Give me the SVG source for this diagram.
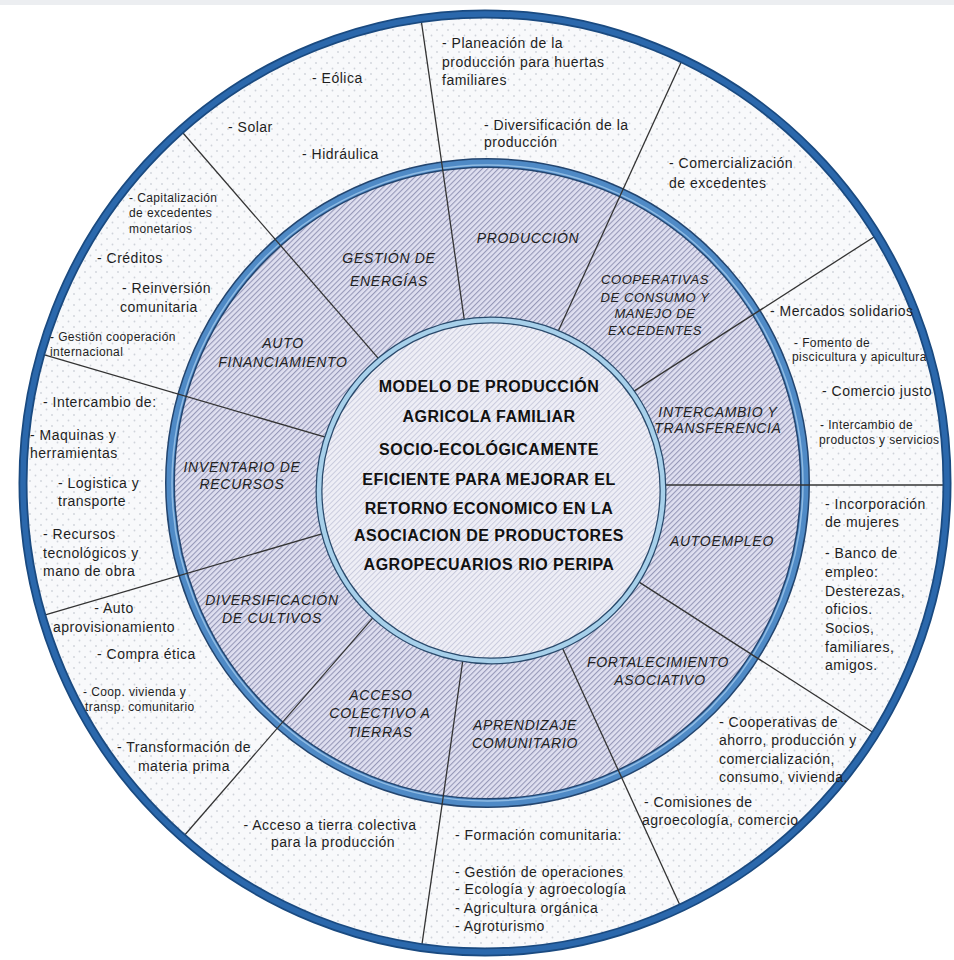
<svg xmlns="http://www.w3.org/2000/svg" width="954" height="960" viewBox="0 0 954 960">
<defs>
  <pattern id="dots" patternUnits="userSpaceOnUse" width="11" height="11">
    <rect width="11" height="11" fill="#f8f9fb"/>
    <circle cx="2.5" cy="2.5" r="0.9" fill="#cfd3da"/>
    <circle cx="8" cy="8" r="0.9" fill="#cfd3da"/>
  </pattern>
  <pattern id="hatch" patternUnits="userSpaceOnUse" width="3.8" height="10" patternTransform="rotate(45)">
    <rect width="3.8" height="10" fill="#dfdff0"/>
    <rect width="1.1" height="10" fill="#9698b8"/>
  </pattern>
  <pattern id="hatchLight" patternUnits="userSpaceOnUse" width="3.8" height="10" patternTransform="rotate(45)">
    <rect width="3.8" height="10" fill="#eeeef6"/>
    <rect width="1" height="10" fill="#c9cbdd"/>
  </pattern>
  <clipPath id="clipOuter"><ellipse cx="485" cy="483" rx="462" ry="469"/></clipPath>
</defs>
<style>
  .o{font-family:"Liberation Sans",Arial,sans-serif;font-size:14px;letter-spacing:0.5px;fill:#1e1e1e}
  .s{font-size:12px;letter-spacing:0.4px}
  .mid{text-anchor:middle}
  .m{font-family:"Liberation Sans",Arial,sans-serif;font-style:italic;font-size:14px;letter-spacing:0.7px;fill:#222;text-anchor:middle}
  .ms{font-size:13px;letter-spacing:0.6px}
  .c{font-family:"Liberation Sans",Arial,sans-serif;font-weight:bold;font-size:16px;letter-spacing:0.5px;fill:#111;text-anchor:middle}
  .div{stroke:#333;stroke-width:1.3;fill:none}
</style>
<rect width="954" height="960" fill="#ffffff"/>
<rect width="954" height="5" fill="#eceef1"/>

<g id="ring-outer">
  <ellipse cx="485" cy="483" rx="462" ry="469" fill="url(#dots)"/>
</g>
<g id="ring-middle">
  <ellipse cx="487.5" cy="483" rx="317.5" ry="320" fill="url(#hatch)"/>
  <ellipse cx="487.5" cy="483" rx="317.5" ry="320" fill="none" stroke="#23456f" stroke-width="10"/>
  <ellipse cx="487.5" cy="483" rx="317.5" ry="320" fill="none" stroke="#4f8ac6" stroke-width="7"/>
  <ellipse cx="487.5" cy="483" rx="315.5" ry="318" fill="none" stroke="#8fbbe3" stroke-width="1.5"/>
</g>

<g id="connectors" clip-path="url(#clipOuter)">
  <line class="div" x1="638" y1="485" x2="968" y2="485"/>
  <line class="div" x1="614.2" y1="566.1" x2="891.8" y2="744.5"/>
  <line class="div" x1="550.3" y1="621.4" x2="687.4" y2="921.6"/>
  <line class="div" x1="466.7" y1="633.5" x2="419.7" y2="960.1"/>
  <line class="div" x1="389.8" y1="598.4" x2="173.7" y2="847.8"/>
  <line class="div" x1="344.1" y1="527.3" x2="27.4" y2="620.2"/>
  <line class="div" x1="344.1" y1="442.7" x2="27.4" y2="349.8"/>
  <line class="div" x1="389.8" y1="371.6" x2="173.7" y2="122.2"/>
  <line class="div" x1="466.7" y1="336.5" x2="419.7" y2="9.9"/>
  <line class="div" x1="550.3" y1="348.6" x2="687.4" y2="48.4"/>
  <line class="div" x1="614.2" y1="403.9" x2="891.8" y2="225.5"/>
</g>

<g id="core">
  <ellipse cx="491" cy="490.5" rx="172" ry="170.5" fill="url(#hatchLight)"/>
  <ellipse cx="491" cy="490.5" rx="172" ry="170.5" fill="none" stroke="#2a4a6c" stroke-width="7"/>
  <ellipse cx="491" cy="490.5" rx="172" ry="170.5" fill="none" stroke="#a7d0ea" stroke-width="4.5"/>
  <text class="c" x="489" y="392">MODELO DE PRODUCCIÓN</text>
  <text class="c" x="489" y="422">AGRICOLA FAMILIAR</text>
  <text class="c" x="489" y="455">SOCIO-ECOLÓGICAMENTE</text>
  <text class="c" x="489" y="485">EFICIENTE PARA MEJORAR EL</text>
  <text class="c" x="489" y="514">RETORNO ECONOMICO EN LA</text>
  <text class="c" x="489" y="541">ASOCIACION DE PRODUCTORES</text>
  <text class="c" x="489" y="570">AGROPECUARIOS RIO PERIPA</text>
</g>

<g id="outer-band">
  <ellipse cx="485" cy="483" rx="462" ry="469" fill="none" stroke="#1a4a80" stroke-width="9"/>
  <ellipse cx="485" cy="483" rx="462" ry="469" fill="none" stroke="#2b68ac" stroke-width="5.5"/>
</g>

<g id="seg-gestion-energias"><text class="m" x="389" y="263">GESTIÓN DE</text><text class="m" x="389" y="286">ENERGÍAS</text></g>
<g id="seg-produccion"><text class="m" x="528" y="243">PRODUCCIÓN</text></g>
<g id="seg-cooperativas">
  <text class="m ms" x="655" y="284">COOPERATIVAS</text>
  <text class="m ms" x="655" y="302">DE CONSUMO Y</text>
  <text class="m ms" x="655" y="318">MANEJO DE</text>
  <text class="m ms" x="655" y="335">EXCEDENTES</text>
</g>
<g id="seg-intercambio"><text class="m" x="718" y="417">INTERCAMBIO Y</text><text class="m" x="718" y="433">TRANSFERENCIA</text></g>
<g id="seg-autoempleo"><text class="m" x="722" y="546">AUTOEMPLEO</text></g>
<g id="seg-fortalecimiento"><text class="m" x="658" y="667">FORTALECIMIENTO</text><text class="m" x="660" y="685">ASOCIATIVO</text></g>
<g id="seg-aprendizaje"><text class="m" x="525" y="730">APRENDIZAJE</text><text class="m" x="525" y="748">COMUNITARIO</text></g>
<g id="seg-acceso"><text class="m" x="381" y="700">ACCESO</text><text class="m" x="380" y="718">COLECTIVO A</text><text class="m" x="380" y="737">TIERRAS</text></g>
<g id="seg-diversificacion"><text class="m" x="272" y="605">DIVERSIFICACIÓN</text><text class="m" x="272" y="623">DE CULTIVOS</text></g>
<g id="seg-inventario"><text class="m" x="242" y="472">INVENTARIO DE</text><text class="m" x="242" y="489">RECURSOS</text></g>
<g id="seg-autofinanciamiento"><text class="m" x="283" y="348">AUTO</text><text class="m" x="283" y="367">FINANCIAMIENTO</text></g>

<g id="out-energias">
  <text class="o" x="312" y="83">- Eólica</text>
  <text class="o" x="228" y="132">- Solar</text>
  <text class="o" x="302" y="159">- Hidráulica</text>
</g>
<g id="out-produccion">
  <text class="o" x="442" y="48">- Planeación de la</text>
  <text class="o" x="442" y="67">producción para huertas</text>
  <text class="o" x="442" y="85">familiares</text>
  <text class="o" x="484" y="130">- Diversificación de la</text>
  <text class="o" x="484" y="147">producción</text>
</g>
<g id="out-cooperativas">
  <text class="o" x="669" y="168">- Comercialización</text>
  <text class="o" x="669" y="188">de excedentes</text>
</g>
<g id="out-intercambio">
  <text class="o" x="770" y="316">- Mercados solidarios</text>
  <text class="o s" x="794" y="347">- Fomento de</text>
  <text class="o s" x="792" y="361">piscicultura y apicultura</text>
  <text class="o" x="822" y="396">- Comercio justo</text>
  <text class="o s" x="820" y="429">- Intercambio de</text>
  <text class="o s" x="819" y="444">productos y servicios</text>
</g>
<g id="out-autoempleo">
  <text class="o" x="825" y="509">- Incorporación</text>
  <text class="o" x="825" y="527">de mujeres</text>
  <text class="o" x="825" y="558">- Banco de</text>
  <text class="o" x="825" y="577">empleo:</text>
  <text class="o" x="825" y="596">Desterezas,</text>
  <text class="o" x="825" y="614">oficios.</text>
  <text class="o" x="825" y="633">Socios,</text>
  <text class="o" x="825" y="652">familiares,</text>
  <text class="o" x="825" y="670">amigos.</text>
</g>
<g id="out-fortalecimiento">
  <text class="o" x="719" y="727">- Cooperativas de</text>
  <text class="o" x="719" y="745">ahorro, producción y</text>
  <text class="o" x="719" y="764">comercialización,</text>
  <text class="o" x="719" y="782">consumo, vivienda.</text>
  <text class="o" x="644" y="807">- Comisiones de</text>
  <text class="o" x="642" y="825">agroecología, comercio</text>
</g>
<g id="out-aprendizaje">
  <text class="o" x="455" y="840">- Formación comunitaria:</text>
  <text class="o" x="455" y="877">- Gestión de operaciones</text>
  <text class="o" x="455" y="894">- Ecología y agroecología</text>
  <text class="o" x="455" y="913">- Agricultura orgánica</text>
  <text class="o" x="455" y="931">- Agroturismo</text>
</g>
<g id="out-acceso">
  <text class="o mid" x="330" y="830">- Acceso a tierra colectiva</text>
  <text class="o mid" x="333" y="847">para la producción</text>
</g>
<g id="out-diversificacion">
  <text class="o mid" x="114" y="613">- Auto</text>
  <text class="o mid" x="114" y="632">aprovisionamiento</text>
  <text class="o" x="97" y="659">- Compra ética</text>
  <text class="o s" x="83" y="696">- Coop. vivienda y</text>
  <text class="o s" x="85" y="711">transp. comunitario</text>
  <text class="o mid" x="184" y="752">- Transformación de</text>
  <text class="o mid" x="184" y="771">materia prima</text>
</g>
<g id="out-inventario">
  <text class="o" x="43" y="407">- Intercambio de:</text>
  <text class="o" x="30" y="440">- Maquinas y</text>
  <text class="o" x="30" y="458">herramientas</text>
  <text class="o" x="58" y="488">- Logistica y</text>
  <text class="o" x="58" y="506">transporte</text>
  <text class="o" x="43" y="539">- Recursos</text>
  <text class="o" x="43" y="558">tecnológicos y</text>
  <text class="o" x="43" y="576">mano de obra</text>
</g>
<g id="out-autofinanciamiento">
  <text class="o s" x="129" y="202">- Capitalización</text>
  <text class="o s" x="129" y="217">de excedentes</text>
  <text class="o s" x="129" y="233">monetarios</text>
  <text class="o" x="97" y="263">- Créditos</text>
  <text class="o" x="122" y="293">- Reinversión</text>
  <text class="o" x="120" y="312">comunitaria</text>
  <text class="o s" x="50" y="341">- Gestión cooperación</text>
  <text class="o s" x="50" y="356">internacional</text>
</g>
</svg>
